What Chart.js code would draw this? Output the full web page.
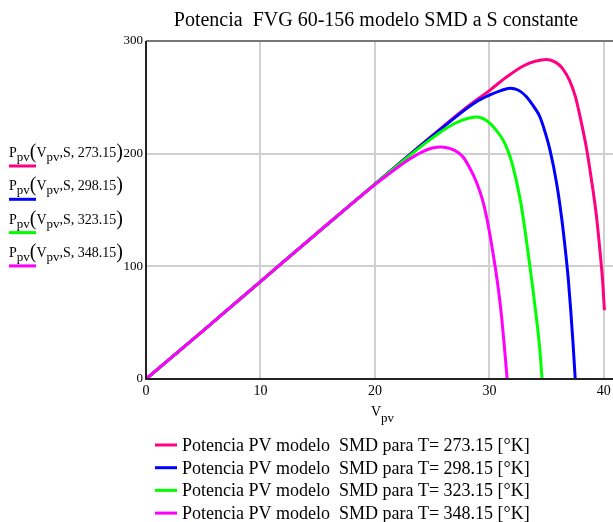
<!DOCTYPE html>
<html>
<head>
<meta charset="utf-8">
<script src="https://cdn.jsdelivr.net/npm/chart.js@4"></script>
<style>
  body { margin: 0; background: #fff; }
  #wrap { width: 613px; height: 522px; position: relative; }
</style>
</head>
<body>
<div id="wrap"><canvas id="pvChart"></canvas></div>
<script>
// series data (V in volts, P in watts)
const temps = ["273.15", "298.15", "323.15", "348.15"];
const colors = ["#ff0080", "#0000ff", "#00ff00", "#ff00ff"];

const vPink = [0, 5, 10, 15, 20, 25, 28, 30, 31.5, 33, 34, 35, 35.8, 36.4, 37, 37.5, 37.9, 38.5, 38.9, 39.35, 39.65, 39.9, 40.05];
const pPink = [0, 43, 86.5, 130, 173, 216, 241, 256, 268, 278, 282, 283.5, 281, 275.5, 265, 251, 234, 204, 178, 145, 115, 86, 61];

const vBlue = [0, 5, 10, 15, 20, 25, 28, 29, 30, 31, 31.8, 32.5, 33.2, 34, 34.4, 34.9, 35.3, 35.87, 36.3, 36.6, 36.9, 37.1, 37.3, 37.5];
const pBlue = [0, 43, 86.5, 130, 173, 215.5, 240, 247, 252, 256, 258, 256.5, 251, 240, 233, 218, 203, 174, 144, 118, 88, 62, 33, 0];

const vGreen = [0, 5, 10, 15, 20, 23, 24.5, 26, 27, 28, 28.9, 29.8, 30.5, 31.2, 31.6, 32, 32.7, 33.1, 33.5, 33.8, 34.1, 34.4, 34.6];
const pGreen = [0, 43, 86.5, 130, 173, 198, 210, 221, 227, 231, 232.5, 229, 222, 212, 203, 191, 159, 133, 103, 80, 55, 27, 0];

const vMag = [0, 5, 10, 15, 20, 22, 23, 24, 25, 25.8, 26.6, 27.2, 27.7, 28.3, 28.9, 29.4, 29.75, 30.1, 30.5, 30.8, 31.07, 31.3, 31.55];
const pMag = [0, 43, 86.5, 130, 172.5, 188, 195, 201, 205, 206, 204.5, 201.5, 197, 187, 174, 159, 144, 125, 100, 78.5, 55, 30, 0];

const xTicks = [0, 10, 20, 30, 40];
const titleText = "Potencia  FVG 60-156 modelo SMD a S constante";

const SERIF = "'Liberation Serif', 'Times New Roman', serif";

function toPoints(xs, ys) {
  return xs.map((x, i) => ({ x: x, y: ys[i] }));
}

// draws a run of [text, size, dy] pieces, returns end x
function drawRun(ctx, parts, x, y) {
  parts.forEach(([txt, size, dy]) => {
    ctx.font = size + "px " + SERIF;
    ctx.fillText(txt, x, y + dy);
    x += ctx.measureText(txt).width;
  });
  return x;
}

const textPlugin = {
  id: "textPlugin",
  afterDraw(chart) {
    const ctx = chart.ctx;
    const a = chart.chartArea;
    ctx.save();

    // plot frame
    ctx.strokeStyle = "#777";
    ctx.lineWidth = 2;
    ctx.beginPath();
    ctx.moveTo(a.left, a.top);
    ctx.lineTo(a.right, a.top);
    ctx.stroke();
    ctx.strokeStyle = "#222";
    ctx.beginPath();
    ctx.moveTo(a.left, a.top);
    ctx.lineTo(a.left, a.bottom);
    ctx.lineTo(a.right, a.bottom);
    ctx.stroke();

    ctx.fillStyle = "#000";
    ctx.textBaseline = "alphabetic";

    // title
    ctx.font = "20px " + SERIF;
    ctx.textAlign = "center";
    ctx.fillText(titleText, 376, 26);
    ctx.textAlign = "left";

    // x axis label V_pv
    drawRun(ctx, [["V", 14, 0], ["pv", 13, 6]], 371, 416);

    // left legend, mathcad style
    temps.forEach((t, i) => {
      const u = 166 + 33.3 * i;
      const b = u - 9;
      ctx.fillStyle = "#000";
      drawRun(ctx, [
        ["P", 14, 0], ["pv", 13, 4], ["(", 20, 1],
        ["V", 14, 0], ["pv", 13, 4], [",S, " + t, 14, 0], [")", 20, 1]
      ], 9, b);
      ctx.strokeStyle = colors[i];
      ctx.lineWidth = 3;
      ctx.beginPath();
      ctx.moveTo(9, u);
      ctx.lineTo(36, u);
      ctx.stroke();
    });

    // bottom legend
    temps.forEach((t, i) => {
      const y = 445 + 22.7 * i;
      ctx.strokeStyle = colors[i];
      ctx.lineWidth = 3;
      ctx.beginPath();
      ctx.moveTo(155, y);
      ctx.lineTo(177, y);
      ctx.stroke();
      ctx.fillStyle = "#000";
      ctx.font = "18px " + SERIF;
      ctx.fillText("Potencia PV modelo  SMD para T= " + t + " [°K]", 182, y + 6);
    });

    ctx.restore();
  }
};

const series = [
  [vPink, pPink],
  [vBlue, pBlue],
  [vGreen, pGreen],
  [vMag, pMag],
];

const ctx = document.getElementById("pvChart").getContext("2d");
const pvChart = new Chart(ctx, {
  type: "line",
  data: {
    datasets: series.map(([xs, ys], i) => ({
      label: "T= " + temps[i],
      data: toPoints(xs, ys),
      borderColor: colors[i],
      backgroundColor: colors[i],
      borderWidth: 3,
      pointRadius: 0,
      fill: false,
      cubicInterpolationMode: "monotone",
      order: 3 - i, // last trace on top, like the original
    })),
  },
  options: {
    responsive: true,
    maintainAspectRatio: false,
    animation: false,
    layout: { padding: { top: 41, left: 0, right: 0, bottom: 0 } },
    plugins: {
      legend: { display: false },
      title: { display: false },
      tooltip: { enabled: false },
    },
    scales: {
      x: {
        type: "linear",
        min: 0,
        max: 40.8,
        afterBuildTicks: (s) => {
          s.ticks = xTicks.map((v) => ({ value: v }));
        },
        afterFit: (s) => {
          s.height = 143;
          s.paddingLeft = 0;
          s.paddingRight = 0;
        },
        border: { display: false },
        grid: { color: "#d0d0d0", lineWidth: 2, drawTicks: false },
        ticks: {
          color: "#000",
          font: { family: SERIF, size: 14 },
          padding: 4,
          maxRotation: 0,
        },
      },
      y: {
        min: 0,
        max: 300,
        afterFit: (s) => {
          s.width = 146;
          s.paddingTop = 0;
          s.paddingBottom = 0;
        },
        border: { display: false },
        grid: { color: "#d0d0d0", lineWidth: 2, drawTicks: false },
        ticks: {
          stepSize: 100,
          color: "#000",
          font: { family: SERIF, size: 13 },
          padding: 3,
        },
      },
    },
  },
  plugins: [textPlugin],
});
</script>
</body>
</html>
